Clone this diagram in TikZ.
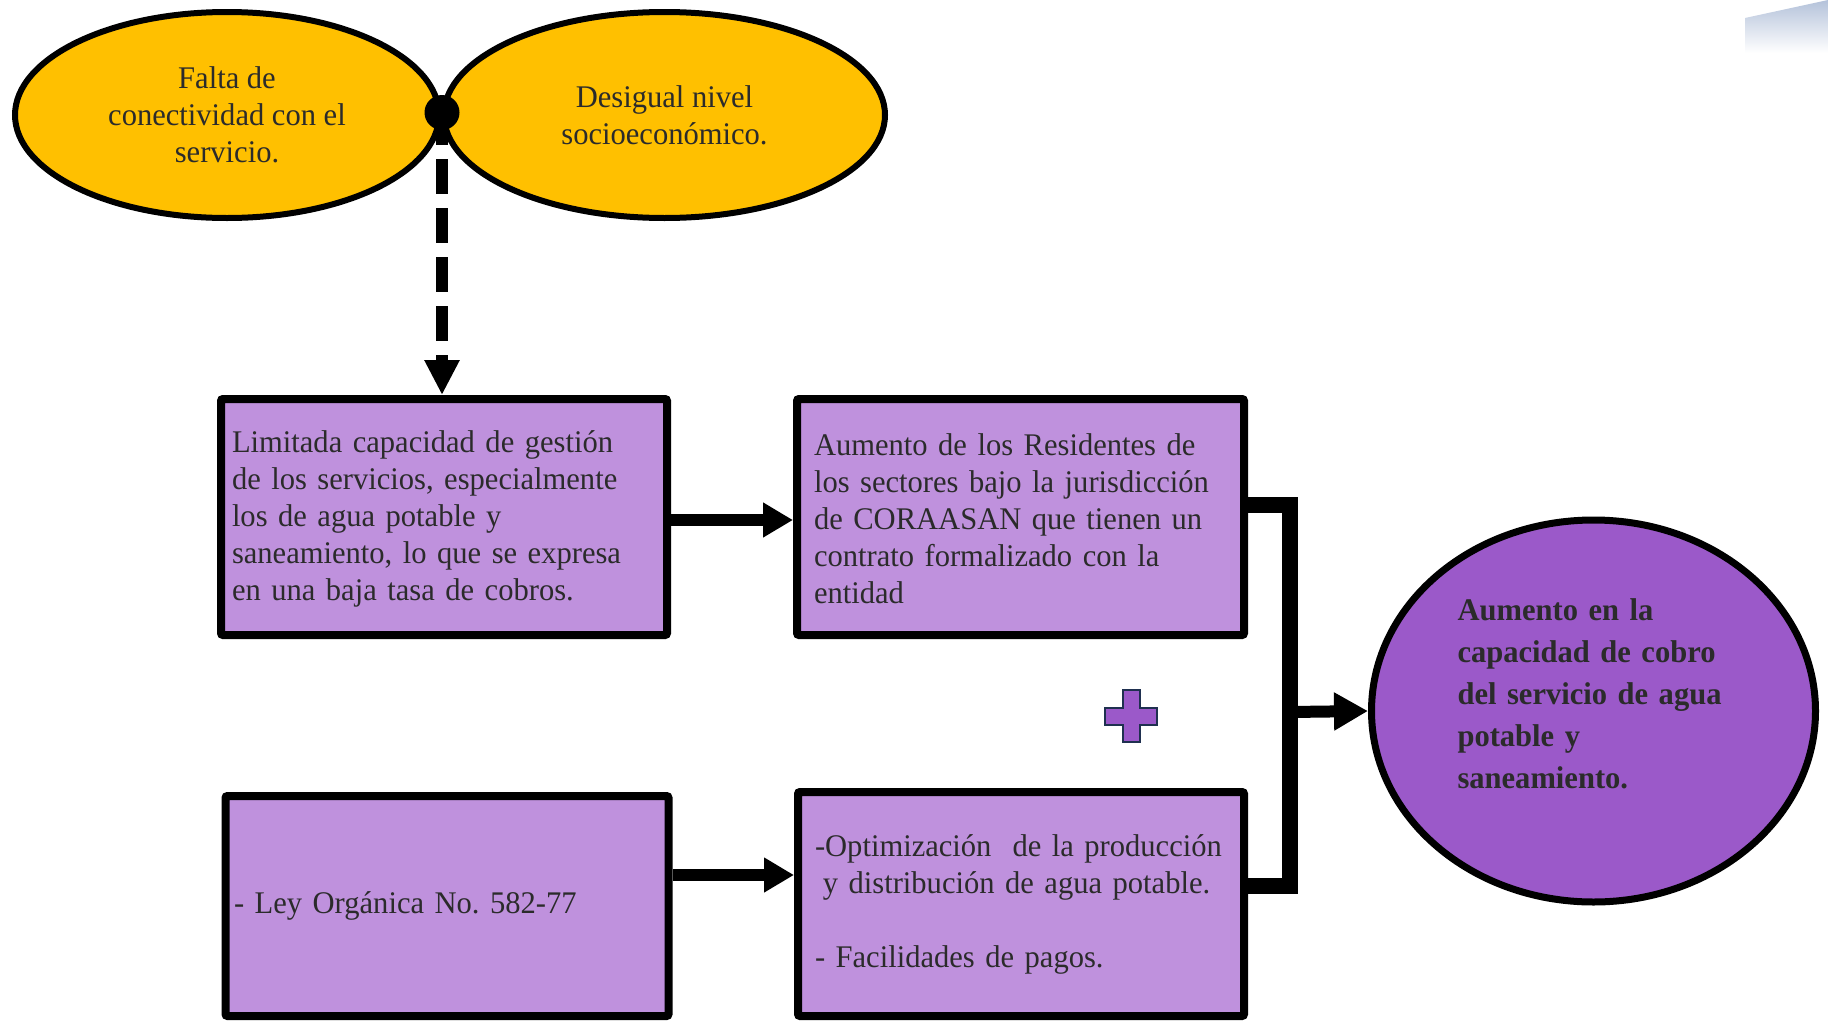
\documentclass[tikz,border=0pt]{standalone}
\usepackage{fontspec}
\setmainfont{Liberation Serif}[FakeStretch=0.97]
\usetikzlibrary{arrows.meta,shapes.geometric}
\definecolor{gold}{HTML}{FFC000}
\definecolor{lilac}{HTML}{BF91DD}
\definecolor{violettwo}{HTML}{9B59C9}
\definecolor{txt}{HTML}{2B2B2B}
\definecolor{navy}{HTML}{1F3050}
\definecolor{steel}{HTML}{B4C2DA}
\frenchspacing
\begin{document}
\begin{tikzpicture}[x=1pt,y=-1pt,
  every node/.style={text=txt, font=\fontsize{31.5}{37}\selectfont},
  oval/.style={ellipse, draw=black, line width=6pt, fill=gold, inner sep=0pt, align=center},
  box/.style={rectangle, draw=black, line width=8pt, fill=lilac, inner sep=0pt, align=left, rounded corners=2pt},
  link/.style={line width=12pt, -{Triangle[length=30pt,width=33pt]}},
]
\useasboundingbox (0,0) rectangle (1828,1020);
% decorative gradient, top right
\shade[top color=steel, bottom color=white] (1745,18) -- (1828,0) -- (1828,53) -- (1745,53) -- cycle;

% ellipses
\node[oval, minimum width=424pt, minimum height=206pt] (falta) at (227,115) {Falta de\\conectividad con el\\servicio.};
\node[oval, minimum width=441pt, minimum height=206pt] (desigual) at (664.5,115) {Desigual nivel\\socioeconómico.};
\node[circle, fill=black, minimum size=35pt, inner sep=0pt] (dot) at (442,112.5) {};

% boxes
\node[box, minimum width=446pt, minimum height=236pt, text width=424pt] (box1) at (444,517)
 {\strut Limitada capacidad de gestión\\de los servicios, especialmente\\los de agua potable y\\saneamiento, lo que se expresa\\en una baja tasa de cobros.};
\node[box, minimum width=447pt, minimum height=236pt, text width=413pt] (box2) at (1020.5,517)
 {\strut Aumento de los Residentes de\\los sectores bajo la jurisdicción\\de CORAASAN que tienen un\\contrato formalizado con la\\entidad};
\node[box, minimum width=443pt, minimum height=220pt, text width=426pt] (box3) at (447,906)
 {- Ley Orgánica No. 582-77};
\node[box, minimum width=446pt, minimum height=224pt, text width=412pt] (box4) at (1021,904)
 {-Optimización\ \ de la producción\\\hspace*{0.25em}y distribución de agua potable.\\[37pt]- Facilidades de pagos.};

% goal
\node[ellipse, draw=black, line width=7pt, fill=violettwo, minimum width=444pt, minimum height=382pt, inner sep=0pt] (goal) at (1593.5,711) {};
\node[font=\bfseries\fontsize{31.5}{42}\selectfont, text width=272pt, align=left, inner sep=0pt] (goaltxt) at ([yshift=17.5pt]goal.center)
 {Aumento en la\\capacidad de cobro\\del servicio de agua\\potable y\\saneamiento.};

% plus sign
\draw[navy, line width=2pt, fill=violettwo] (1122.5,690) -- (1139.5,690) -- (1139.5,707.5) -- (1157,707.5) -- (1157,724.5) -- (1139.5,724.5) -- (1139.5,742) -- (1122.5,742) -- (1122.5,724.5) -- (1105,724.5) -- (1105,707.5) -- (1122.5,707.5) -- cycle;

% connectors
\draw[line width=12pt, dash pattern=on 35pt off 14pt, dash phase=20pt, -{Triangle[length=35pt,width=33pt]}] (dot.south) -- (dot.south |- box1.north);
\draw[link] (box1.east |- 0,520) -- (box2.west |- 0,520);
\draw[link] (box3.east |- 0,875) -- (box4.west |- 0,875);
\coordinate (jn) at (1290,712);
\draw[line width=16pt] (box2.east |- 0,505) -- (jn |- 0,505) -- (jn |- 0,886) -- (box4.east |- 0,886);
\draw[line width=12pt, -{Triangle[length=34pt,width=36pt]}] (jn) -- (goal.west);
\end{tikzpicture}
\end{document}
